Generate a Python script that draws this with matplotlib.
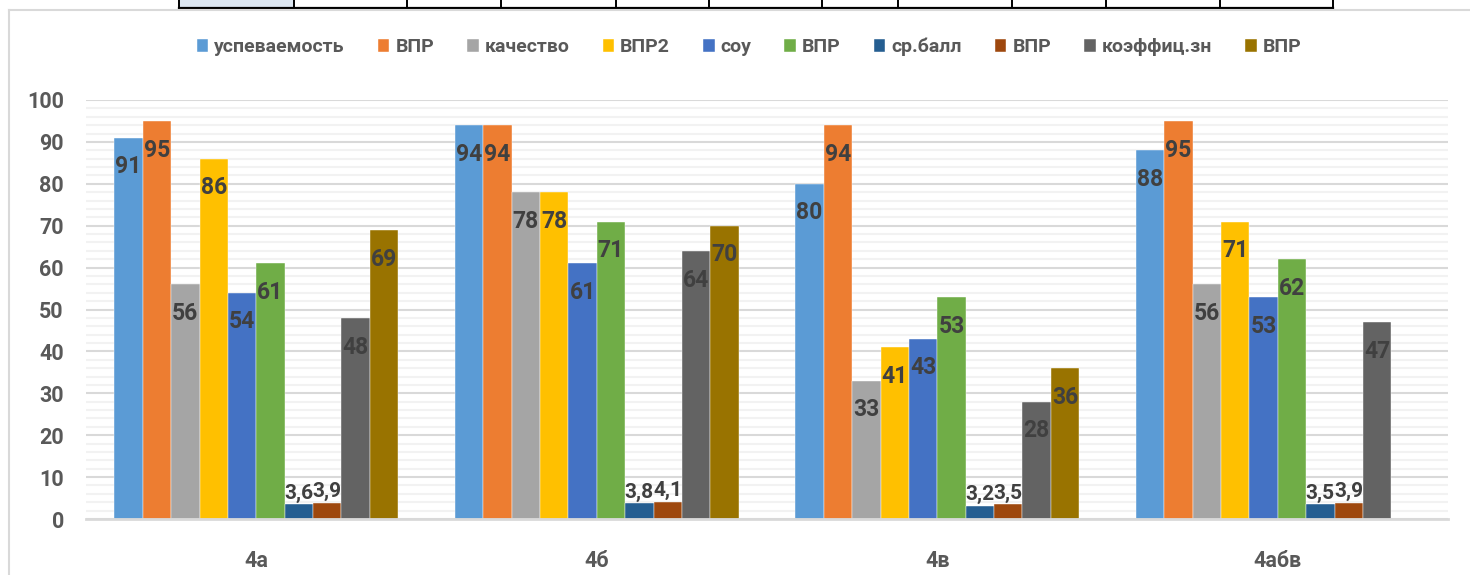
import numpy as np
import matplotlib.pyplot as plt
from matplotlib.lines import Line2D
from matplotlib.patches import Rectangle

plt.rcParams['font.family'] = ['Roboto', 'DejaVu Sans']

# data
classes = ['4а', '4б', '4в', '4абв']
series_names = ['успеваемость', 'ВПР', 'качество', 'ВПР2', 'соу', 'ВПР',
                'ср.балл', 'ВПР', 'коэффиц.зн', 'ВПР']
uspev = [91, 94, 80, 88]
vpr_uspev = [95, 94, 94, 95]
kachestvo = [56, 78, 33, 56]
vpr2 = [86, 78, 41, 71]
sou = [54, 61, 43, 53]
vpr_sou = [61, 71, 53, 62]
sr_ball = [3.6, 3.8, 3.2, 3.5]
vpr_ball = [3.9, 4.1, 3.5, 3.9]
koef = [48, 64, 28, 47]
vpr_koef = [69, 70, 36, np.nan]

series = [uspev, vpr_uspev, kachestvo, vpr2, sou, vpr_sou,
          sr_ball, vpr_ball, koef, vpr_koef]
colors = ['#5B9BD5', '#ED7D31', '#A5A5A5', '#FFC000', '#4472C4',
          '#70AD47', '#255E91', '#9E480E', '#636363', '#997300']

W, H = 1470, 575
fig = plt.figure(figsize=(W / 100, H / 100), dpi=100)

# cut-off table row at the very top and the chart frame
def fx(px):
    return px / W

def fy(py):
    return 1 - py / H

col_edges = [179, 294, 407, 501, 616, 709, 822, 898, 1012, 1106, 1220, 1333]
fig.patches.append(Rectangle((fx(179), fy(8)), fx(294 - 179), fy(0) - fy(8),
                             transform=fig.transFigure, facecolor='#DCE6F1',
                             edgecolor='none', zorder=0))
fig.lines.append(Line2D([fx(179), fx(1333)], [fy(8), fy(8)], color='black',
                        lw=1.6, transform=fig.transFigure))
for cx in col_edges:
    fig.lines.append(Line2D([fx(cx), fx(cx)], [fy(0), fy(8)], color='black',
                            lw=1.4, transform=fig.transFigure))
fig.lines.append(Line2D([fx(9), fx(9)], [fy(10), fy(575)], color='#D9D9D9',
                        lw=1.5, transform=fig.transFigure))
fig.lines.append(Line2D([fx(9), fx(1470)], [fy(10), fy(10)], color='#D9D9D9',
                        lw=1.5, transform=fig.transFigure))

ax = fig.add_axes([fx(86), fy(519), fx(1448 - 86), fy(100) - fy(519)])

n = len(series)
bw = 1 / 12
x = np.arange(len(classes))
for i, (vals, c, name) in enumerate(zip(series, colors, series_names)):
    pos = x + (i - (n - 1) / 2) * bw
    bars = ax.bar(pos, vals, bw, color=c, label=name, zorder=3,
                  edgecolor='white', linewidth=0.3)
    for xp, v in zip(pos, vals):
        if np.isnan(v):
            continue
        txt = ('%g' % v).replace('.', ',')
        if v < 10:
            ax.annotate(txt, (xp, v), xytext=(0, 1), textcoords='offset points',
                        ha='center', va='bottom', fontsize=15,
                        fontweight='bold', color='#404040', zorder=4)
        else:
            ax.annotate(txt, (xp, v), xytext=(0, -21), textcoords='offset points',
                        ha='center', va='center', fontsize=16.5,
                        fontweight='bold', color='#404040', zorder=4)

ax.set_xlim(-0.5, len(classes) - 0.5)
ax.set_ylim(0, 100)
ax.set_yticks(np.arange(0, 101, 10))
ax.set_yticks(np.arange(0, 101, 2), minor=True)
ax.grid(axis='y', which='major', color='#D9D9D9', lw=1.5, zorder=1)
ax.grid(axis='y', which='minor', color='#F2F2F2', lw=1.5, zorder=0)
ax.set_xticks(x)
ax.set_xticklabels(classes)
ax.tick_params(axis='both', which='both', length=0, labelsize=15.5,
               labelcolor='#595959')
ax.tick_params(axis='y', pad=16)
ax.tick_params(axis='x', pad=22)
for lab in ax.get_xticklabels() + ax.get_yticklabels():
    lab.set_fontweight('bold')
for s in ['top', 'right', 'left']:
    ax.spines[s].set_visible(False)
ax.spines['bottom'].set_color('#D9D9D9')
ax.spines['bottom'].set_linewidth(2)
ax.spines['bottom'].set_zorder(5)

handles, labels = ax.get_legend_handles_labels()
leg = fig.legend(handles, labels, loc='center', ncol=10,
                 bbox_to_anchor=(fx(749), fy(47)), frameon=False,
                 prop={'weight': 'bold', 'size': 14},
                 handlelength=0.6, handleheight=0.6, handletextpad=0.3,
                 columnspacing=1.7)
for t in leg.get_texts():
    t.set_color('#595959')

fig.savefig('out.png', dpi=100)
